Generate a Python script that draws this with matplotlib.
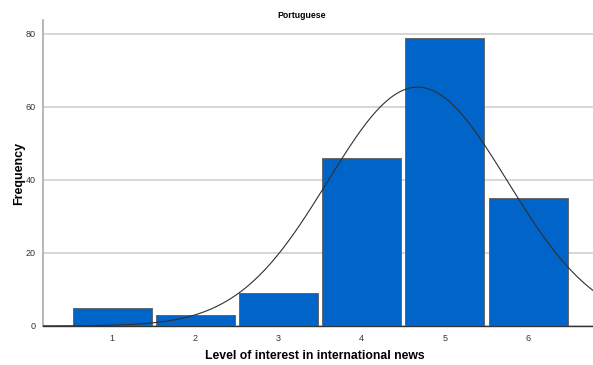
import numpy as np
import matplotlib.pyplot as plt

plt.rcParams['font.family'] = ['Liberation Sans', 'DejaVu Sans']

levels = [1, 2, 3, 4, 5, 6]
counts = [5, 3, 9, 46, 79, 35]
title = 'Portuguese'
x_label = 'Level of interest in international news'
y_label = 'Frequency'

# normal curve fitted to the frequency table
vals = np.repeat(levels, counts)
n = len(vals)
mu = vals.mean()
sd = vals.std(ddof=1)

fig = plt.figure(figsize=(5.93, 3.65), dpi=100)
ax = fig.add_axes([0.0725, 0.107, 0.9275, 0.838])

ax.bar(levels, counts, width=0.95, color='#0064c8', edgecolor='#5a5a5a',
       linewidth=0.6, zorder=3)

xs = np.linspace(0.17, 6.78, 400)
ys = n / (sd * np.sqrt(2 * np.pi)) * np.exp(-0.5 * ((xs - mu) / sd) ** 2)
ax.plot(xs, ys, color='#303030', linewidth=0.8, zorder=4)

ax.set_xlim(0.17, 6.78)
ax.set_ylim(0, 83.8)
ax.set_yticks([0, 20, 40, 60, 80])
ax.set_xticks(levels)
ax.yaxis.grid(True, color='#d0d0d0', linewidth=1.2, zorder=0)
ax.tick_params(axis='both', length=0, labelsize=6.5, colors='#333333')
ax.tick_params(axis='x', pad=6)
ax.tick_params(axis='y', pad=5)

for s in ['top', 'right']:
    ax.spines[s].set_visible(False)
ax.spines['left'].set_color('#aaaaaa')
ax.spines['left'].set_linewidth(1.2)
ax.spines['bottom'].set_color('#333333')
ax.spines['bottom'].set_linewidth(1.0)

ax.set_title(title, fontsize=6.3, fontweight='bold', pad=1, x=0.471)
ax.set_xlabel(x_label, fontsize=8.8, fontweight='bold')
ax.set_ylabel(y_label, fontsize=9, fontweight='bold')
ax.xaxis.set_label_coords(0.495, -0.078)
ax.yaxis.set_label_coords(-0.033, 0.5)

fig.savefig('out.png', dpi=100)
